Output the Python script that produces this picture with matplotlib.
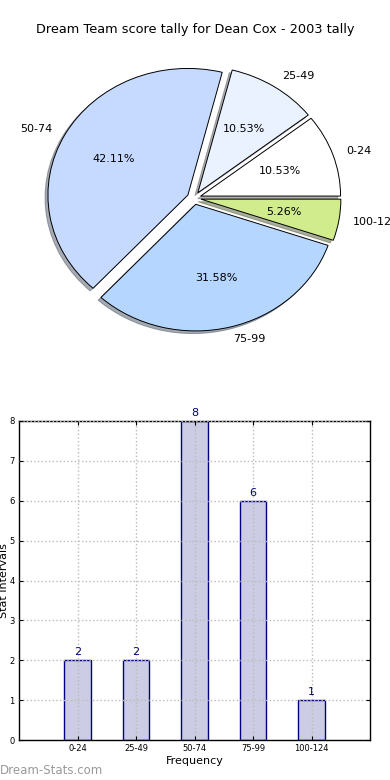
import matplotlib
matplotlib.use('Agg')
from matplotlib import pyplot as plt

# data
labels = ['0-24', '25-49', '50-74', '75-99', '100-124']
counts = [2, 2, 8, 6, 1]
pie_colors = ['#ffffff', '#eaf2ff', '#c6d9ff', '#b5d6ff', '#d0ec8c']
title = 'Dream Team score tally for Dean Cox - 2003 tally'

if __name__ == '__main__':
    fig = plt.figure(figsize=(3.9, 7.8), dpi=100)

    # pie
    ax1 = fig.add_axes([0.049, 0.543, 0.897, 0.406])
    ax1.pie(counts, labels=labels, colors=pie_colors, explode=[0.05] * 5,
            autopct='%1.2f%%', shadow={'ox': -0.015, 'oy': -0.015, 'shade': 0.6},
            startangle=0,
            wedgeprops={'edgecolor': 'black', 'linewidth': 0.7},
            textprops={'fontsize': 8})
    ax1.set_aspect('auto')
    ax1.set_xlim(-1.25, 1.25)
    ax1.set_ylim(-1.25, 1.25)
    fig.text(0.5, 1 - 30 / 780, title, ha='center', va='center', fontsize=9.3)

    # bars
    ax2 = fig.add_axes([19 / 390, 40 / 780, 351 / 390, 319 / 780])
    x = list(range(len(labels)))
    ax2.bar(x, counts, width=0.45, color='#ccccE4', edgecolor='navy', linewidth=1, zorder=1)
    for xi, c in zip(x, counts):
        ax2.annotate(str(c), (xi, c), xytext=(0, 2), textcoords='offset points',
                     ha='center', va='bottom', color='navy', fontsize=8)
    ax2.set_xlim(-1, 5)
    ax2.set_ylim(0, 8)
    ax2.set_xticks(x)
    ax2.set_xticklabels(labels)
    ax2.tick_params(labelsize=6, direction='in', length=3, top=True, right=True, pad=3)
    ax2.grid(True, linestyle=':', color='#bbbbbb', linewidth=1, zorder=2)
    ax2.set_axisbelow(False)
    ax2.set_xlabel('Frequency', fontsize=8, labelpad=2)
    ax2.set_ylabel('Stat Intervals', fontsize=8)
    ax2.yaxis.set_label_coords(-0.028, 0.5)
    for s in ax2.spines.values():
        s.set_linewidth(1)

    fig.text(0.0, 1 - 771 / 780, 'Dream-Stats.com', ha='left', va='center',
             fontsize=8.5, color='#999999')

    plt.savefig('out.png', dpi=100)
